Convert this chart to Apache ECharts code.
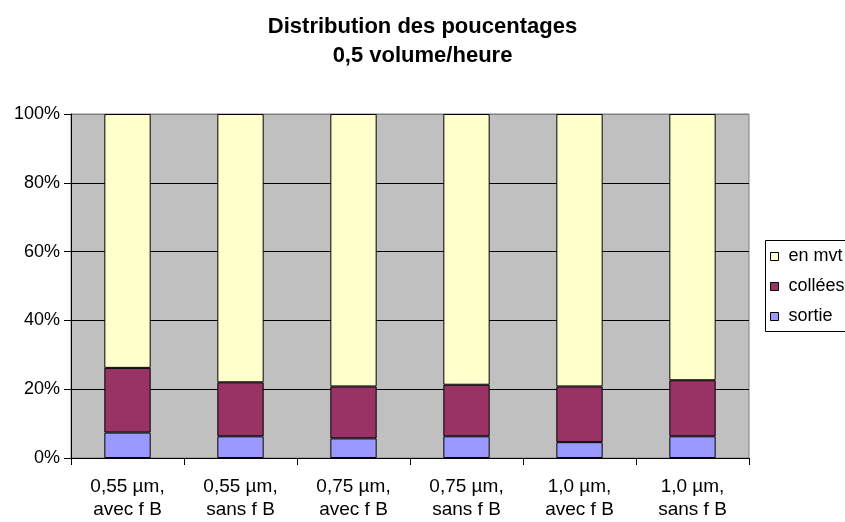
<!DOCTYPE html>
<html>
<head>
<meta charset="utf-8">
<script src="https://cdn.jsdelivr.net/npm/echarts@6/dist/echarts.min.js"></script>
<style>
  html, body { margin: 0; padding: 0; background: #fff; }
  #chart { width: 845px; height: 522px; }
</style>
</head>
<body>
<div id="chart"></div>
<script>
// Categories: particle size and presence of f B
const categories = [
  '0,55 µm,\navec f B', '0,55 µm,\nsans f B',
  '0,75 µm,\navec f B', '0,75 µm,\nsans f B',
  '1,0 µm,\navec f B', '1,0 µm,\nsans f B'
];
// Percentages per category (stacked to 100%)
const sortie = [7.4, 6.3, 5.7, 6.3, 4.6, 6.3];
const collees = [18.8, 15.7, 15.1, 15.0, 16.2, 16.3];
const enMvt = [73.8, 78.0, 79.2, 78.7, 79.2, 77.4];
const yTicks = [0, 20, 40, 60, 80, 100];

const FONT = '"Liberation Sans", Arial, sans-serif';
const chart = echarts.init(document.getElementById('chart'), null, { renderer: 'canvas' });

const barStyle = (color) => ({ color: color, borderColor: '#000', borderWidth: 1 });

chart.setOption({
  animation: false,
  backgroundColor: '#fff',
  title: {
    text: 'Distribution des poucentages\n0,5 volume/heure',
    left: 'center',
    top: 7,
    padding: [5, 12, 5, 5],
    textStyle: { fontFamily: FONT, fontSize: 22, fontWeight: 'bold', color: '#000', lineHeight: 29 }
  },
  grid: {
    left: 71, right: 96, top: 114, bottom: 64,
    show: true, backgroundColor: '#C0C0C0', borderColor: '#808080', borderWidth: 1
  },
  graphic: [{
    type: 'rect',
    shape: { x: 765.5, y: 240.5, width: 90, height: 91 },
    style: { fill: '#fff', stroke: '#000', lineWidth: 1 },
    z: 0
  }],
  legend: {
    orient: 'vertical',
    left: 765,
    top: 242.5,
    padding: [5, 5, 5, 5],
    icon: 'rect',
    itemWidth: 8,
    itemHeight: 8,
    itemGap: 12,
    data: ['en mvt', 'collées', 'sortie'],
    itemStyle: { borderColor: '#000', borderWidth: 1 },
    textStyle: { fontFamily: FONT, fontSize: 18, color: '#000', padding: [0, 0, 0, 5] },
    z: 5
  },
  xAxis: {
    type: 'category',
    data: categories,
    axisLine: { lineStyle: { color: '#000', width: 1 } },
    axisTick: { show: true, length: 7, lineStyle: { color: '#000' } },
    axisLabel: {
      fontFamily: FONT, fontSize: 19, color: '#000', lineHeight: 23.5,
      margin: 17, interval: 0
    }
  },
  yAxis: {
    type: 'value',
    min: 0, max: 100, interval: 20,
    axisLine: { show: true, lineStyle: { color: '#000', width: 1 } },
    axisTick: { show: true, length: 7, lineStyle: { color: '#000' } },
    axisLabel: {
      fontFamily: FONT, fontSize: 18, color: '#000', margin: 11,
      formatter: (v) => yTicks.includes(v) ? v + '%' : ''
    },
    splitLine: {
      show: true,
      lineStyle: { color: ['#000', '#000', '#000', '#000', '#000', '#808080'], width: 1 }
    }
  },
  series: [
    { name: 'sortie', type: 'bar', stack: 'total', barWidth: '41%', data: sortie, itemStyle: barStyle('#9999FF') },
    { name: 'collées', type: 'bar', stack: 'total', barWidth: '41%', data: collees, itemStyle: barStyle('#993366') },
    { name: 'en mvt', type: 'bar', stack: 'total', barWidth: '41%', data: enMvt, itemStyle: barStyle('#FFFFCC') }
  ]
});
</script>
</body>
</html>
